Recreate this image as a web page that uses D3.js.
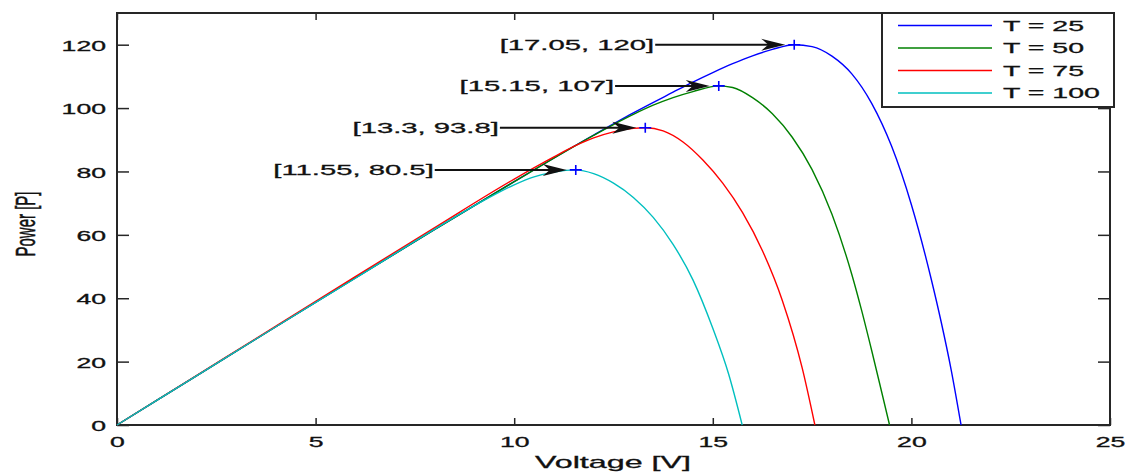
<!DOCTYPE html>
<html>
<head>
<meta charset="utf-8">
<title>PV power vs voltage</title>
<style>
  body { margin: 0; background: #fff; }
  text { font-family: "Liberation Sans", Arial, sans-serif; fill: #111; stroke: #111; stroke-width: 0.3px; }
  .tick line { stroke: #262626; stroke-width: 1.5px; }
</style>
</head>
<body>
<svg width="1130" height="475"></svg>
<script src="https://d3js.org/d3.v7.min.js"></script>
<script>
// series data (voltage in V, power in W)
const temps = [25, 50, 75, 100];
const colors = ["#0000ff", "#008000", "#ff0000", "#00bfbf"];

const v25 = [0, 2, 4, 6, 8, 10, 12, 13, 14, 14.5, 15, 15.5, 16, 16.5, 17.05, 17.5, 18, 18.5, 19, 19.5, 20, 20.5, 20.75, 21, 21.25];
const p25 = [0, 15.5, 31, 46.4, 61.7, 76.8, 91.5, 98.5, 105, 108.2, 111.2, 114, 116.5, 118.5, 120, 119.4, 116.4, 110.8, 101.5, 88, 69.5, 46, 32.5, 17.5, 0];

const v50 = [0, 2, 4, 6, 8, 10, 12, 12.5, 13, 13.5, 14, 14.5, 15.15, 15.5, 16, 16.5, 17, 17.5, 18, 18.5, 18.75, 19, 19.25, 19.45];
const p50 = [0, 15.5, 31, 46.4, 61.7, 76.8, 91.4, 94.8, 98, 100.9, 103.3, 105.2, 107, 106.5, 103.3, 98.2, 90.8, 80.6, 66.5, 47.5, 36, 23.5, 10.5, 0];

const v75 = [0, 2, 4, 6, 8, 10, 11, 11.5, 12, 12.5, 13, 13.3, 13.75, 14.25, 14.75, 15.25, 15.75, 16.25, 16.75, 17.25, 17.57];
const p75 = [0, 15.6, 31.2, 46.8, 62.3, 77.6, 84.6, 87.9, 90.6, 92.5, 93.6, 93.8, 92.8, 89.3, 83.6, 76.3, 67, 55, 39.3, 18, 0];

const v100 = [0, 2, 4, 6, 8, 9, 10, 10.5, 11, 11.55, 12, 12.5, 13, 13.5, 14, 14.5, 15, 15.4, 15.74];
const p100 = [0, 15.5, 31, 46.3, 61.8, 69.2, 75.8, 78.3, 79.8, 80.5, 79.3, 76.3, 71.8, 65.5, 57, 45.8, 30.5, 16, 0];

// maximum power points
const peakV = [17.05, 15.15, 13.3, 11.55];
const peakP = [120, 107, 93.8, 80.5];

const xTicks = [0, 5, 10, 15, 20, 25];
const yTicks = [0, 20, 40, 60, 80, 100, 120];

// layout
const plotL = 117, plotR = 1110, plotT = 13, plotB = 425;
const stretch = 1.9;                       // the source picture is wide-stretched
const arrowFromV = [13.55, 12.54, 9.64, 8.0]; // where each annotation arrow starts

const svg = d3.select("svg");
svg.append("rect").attr("width", 1130).attr("height", 475).attr("fill", "#fff");

const x = d3.scaleLinear([0, 25], [plotL, plotR]);
const y = d3.scaleLinear([0, 130], [plotB, plotT]);

const series = [[v25, p25], [v50, p50], [v75, p75], [v100, p100]]
    .map(([vs, ps]) => vs.map((v, i) => [v, ps[i]]));

// ticks on all four sides, pointing inwards
const gx = svg.append("g").attr("transform", `translate(0,${plotB})`)
    .call(d3.axisBottom(x).tickValues(xTicks).tickSizeInner(-7).tickSizeOuter(0).tickPadding(12));
gx.selectAll("text").attr("font-size", 14).attr("transform", `scale(${stretch},1)`);

const gy = svg.append("g").attr("transform", `translate(${plotL},0)`)
    .call(d3.axisLeft(y).tickValues(yTicks).tickSizeInner(-12).tickSizeOuter(0));
gy.selectAll("text").attr("font-size", 14).attr("x", -11 / stretch).attr("dy", "0.4em")
    .attr("transform", `scale(${stretch},1)`);

svg.append("g").attr("transform", `translate(0,${plotT})`)
    .call(d3.axisTop(x).tickValues(xTicks).tickSizeInner(-7).tickSizeOuter(0).tickFormat(""));
svg.append("g").attr("transform", `translate(${plotR},0)`)
    .call(d3.axisRight(y).tickValues(yTicks).tickSizeInner(-12).tickSizeOuter(0).tickFormat(""));

svg.selectAll(".domain").remove();
svg.selectAll(".tick text").attr("fill", "#111").style("font-family", "'Liberation Sans', Arial, sans-serif");

svg.append("rect")
    .attr("x", plotL).attr("y", plotT)
    .attr("width", plotR - plotL).attr("height", plotB - plotT)
    .attr("fill", "none").attr("stroke", "#262626").attr("stroke-width", 2);

// curves
const line = d3.line().x(d => x(d[0])).y(d => y(d[1])).curve(d3.curveMonotoneX);
svg.append("g").selectAll("path")
    .data(series)
    .join("path")
    .attr("d", line)
    .attr("fill", "none")
    .attr("stroke", (d, i) => colors[i])
    .attr("stroke-width", 1.4);

// annotations: label, arrow and marker at each maximum
const ann = svg.append("g");
peakV.forEach((v, i) => {
    const py = y(peakP[i]);
    const px = x(v);
    const x0 = x(arrowFromV[i]);
    const tip = px - 9;
    ann.append("line")
        .attr("x1", x0).attr("y1", py).attr("x2", tip - 14).attr("y2", py)
        .attr("stroke", "#111").attr("stroke-width", 2);
    ann.append("path")
        .attr("d", `M${tip},${py} L${tip - 24},${py - 6} L${tip - 17},${py} L${tip - 24},${py + 6} Z`)
        .attr("fill", "#111");
    ann.append("g").attr("transform", `translate(${x0 - 1},${py}) scale(${stretch},1)`)
        .append("text")
        .attr("text-anchor", "end").attr("dy", "0.35em").attr("font-size", 15.4)
        .text(`[${v}, ${peakP[i]}]`);
    ann.append("path")
        .attr("d", `M${px - 6},${py} H${px + 6} M${px},${py - 5} V${py + 5}`)
        .attr("stroke", "#0000ff").attr("stroke-width", 1.6).attr("fill", "none");
});

// legend
const leg = svg.append("g");
leg.append("rect")
    .attr("x", 882).attr("y", plotT).attr("width", 232).attr("height", 94)
    .attr("fill", "#fff").attr("stroke", "#262626").attr("stroke-width", 2);
temps.forEach((t, i) => {
    const ly = 25.5 + i * 22.5;
    leg.append("line")
        .attr("x1", 898).attr("x2", 992).attr("y1", ly).attr("y2", ly)
        .attr("stroke", colors[i]).attr("stroke-width", 1.6);
    leg.append("g").attr("transform", `translate(1003,${ly}) scale(${stretch},1)`)
        .append("text").attr("dy", "0.36em").attr("font-size", 15)
        .text(`T = ${t}`);
});

// axis titles
svg.append("g").attr("transform", `translate(613,468) scale(${stretch},1)`)
    .append("text").attr("text-anchor", "middle").attr("font-size", 17)
    .text("Voltage [V]");
svg.append("g").attr("transform", `translate(25,224) scale(${stretch},1) rotate(-90)`)
    .append("text").attr("text-anchor", "middle").attr("dy", "0.35em").attr("font-size", 15)
    .text("Power [P]");
</script>
</body>
</html>
